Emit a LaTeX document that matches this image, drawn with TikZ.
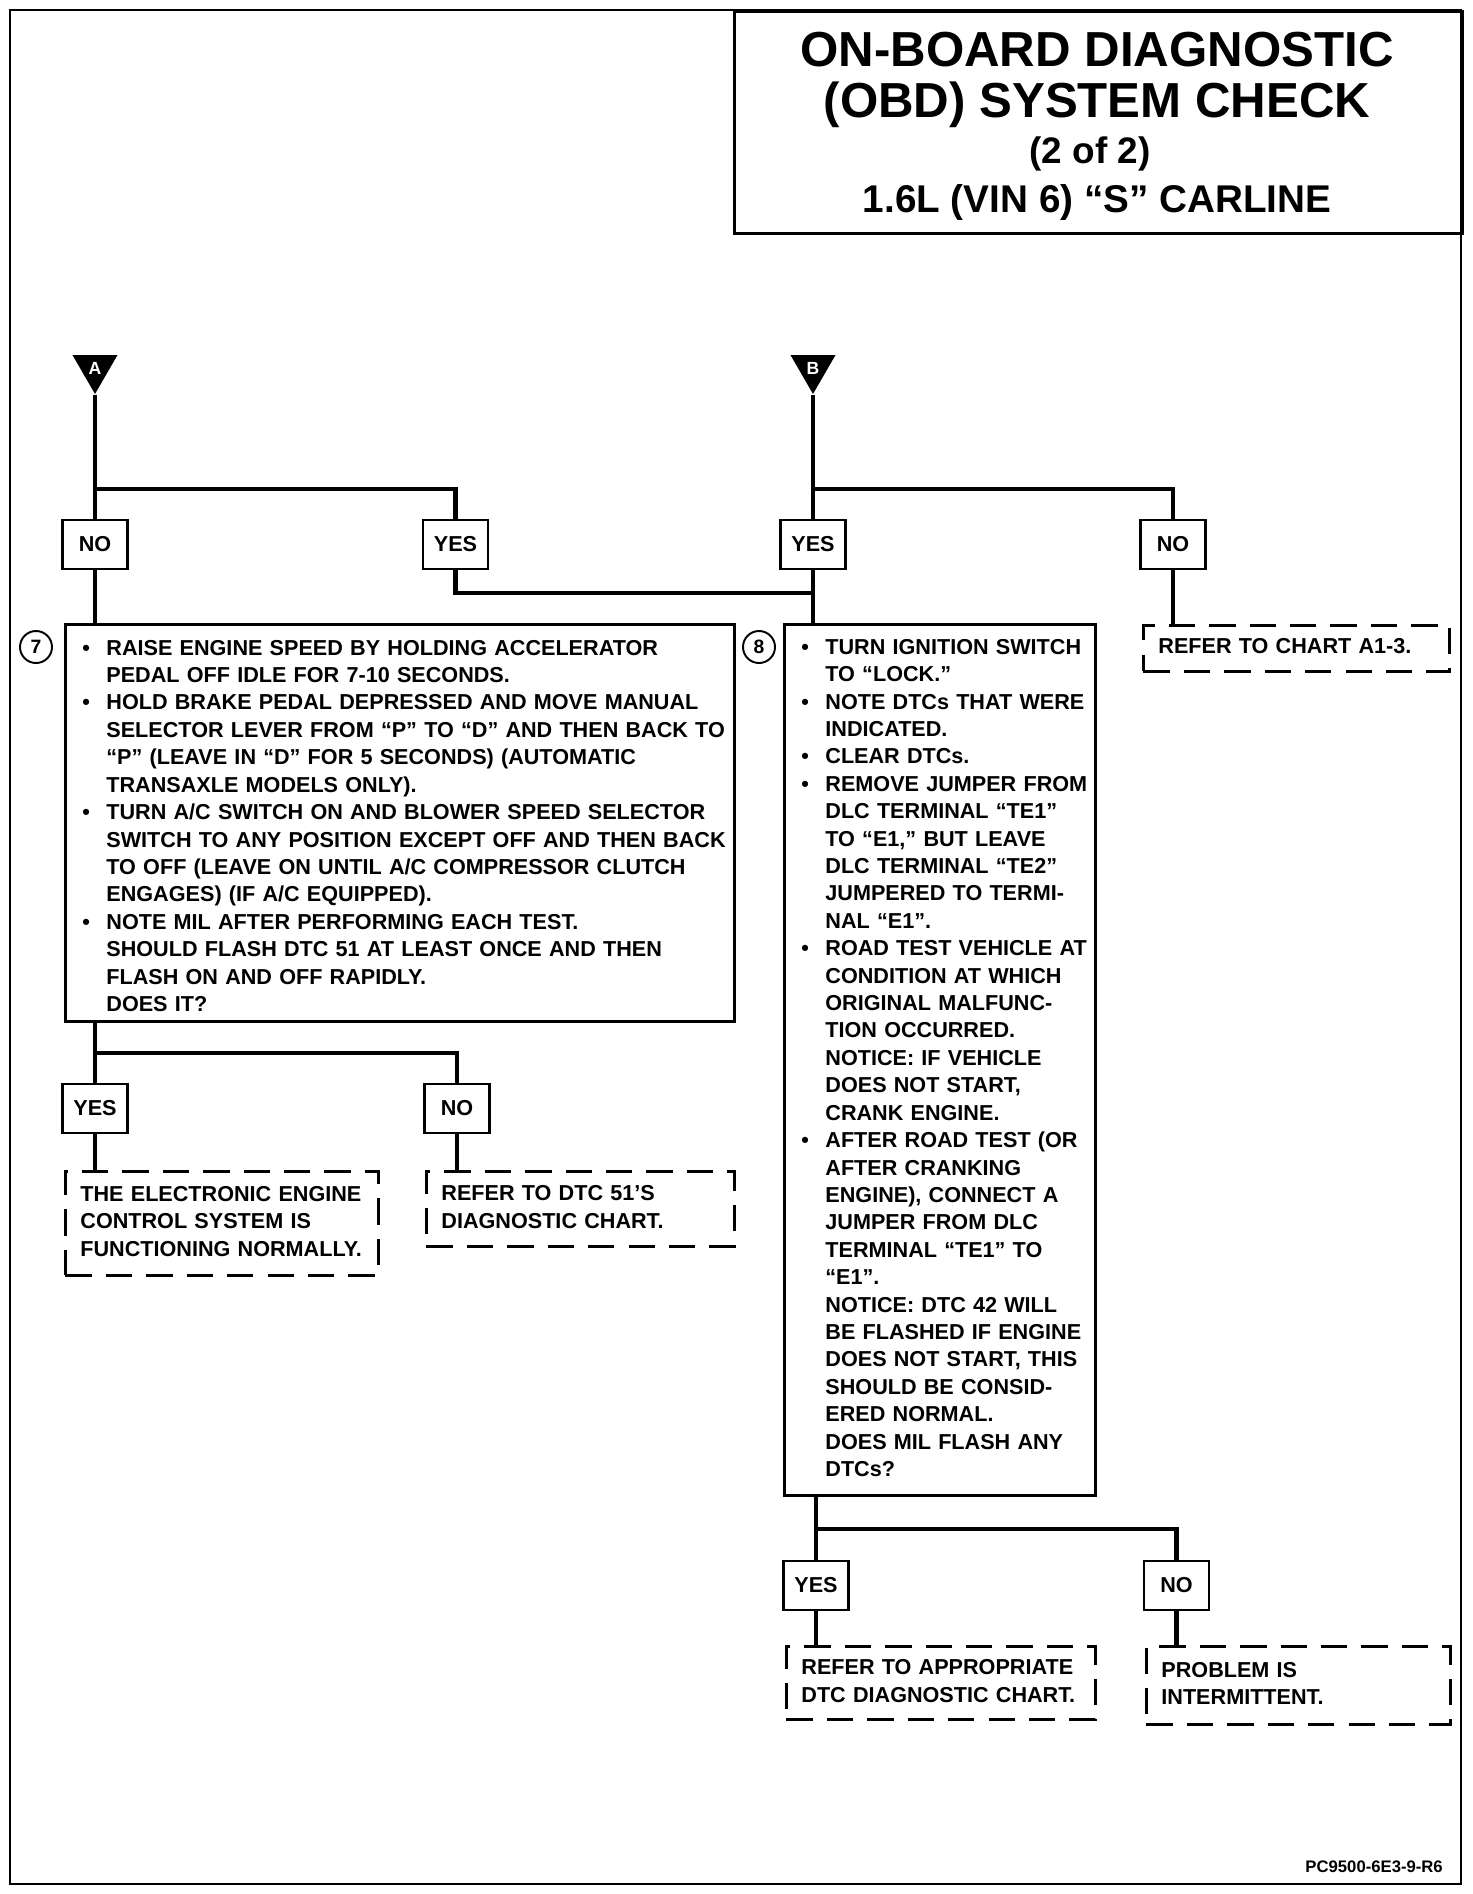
\documentclass[tikz,border=0pt]{standalone}
\usepackage{fontspec}
\setmainfont{Liberation Sans}
\usepackage{tikz}
\usetikzlibrary{positioning,shapes.geometric}

\newcommand{\bodyfont}{\bfseries\fontsize{12.3}{15.6}\selectfont}
\newcommand{\titlefont}{\bfseries\fontsize{28}{30}\selectfont}
\newenvironment{steplist}{\begin{tabular}{@{\hspace{3.4mm}}p{4.8mm}@{}l@{}}}{\end{tabular}}
\newenvironment{resultlist}{\begin{tabular}{@{\hspace{3mm}}l@{}}}{\end{tabular}}

\begin{document}
\begin{tikzpicture}[x=0.2mm, y=-0.2mm,
		conn/.style={line width=2.6pt},
		ansbox/.style={draw, line width=1.6pt, minimum width=13mm, minimum height=9.8mm,
		               inner sep=0pt, font=\bodyfont},
		stepbox/.style={draw, line width=1.6pt, anchor=north west, inner sep=0pt,
		                align=left, font=\bodyfont},
		endbox/.style={stepbox, dash pattern=on 15pt off 8pt},
		stepnum/.style={circle, draw, line width=1.1pt, minimum size=6.4mm, inner sep=0pt,
		                font=\bfseries\fontsize{11}{11}\selectfont},
		offpage/.style={regular polygon, regular polygon sides=3, shape border rotate=180,
		                fill=black, minimum size=10.4mm, inner sep=0pt, text=white,
		                font=\bfseries\fontsize{10}{10}\selectfont}]
	\useasboundingbox (0,0) rectangle (1472,1894);
	\draw[line width=1.1pt] (10,10) rectangle (1461,1884);

	% title block
	\node[draw, line width=1.6pt, anchor=north west, minimum width=145.6mm,
	      minimum height=44.4mm] (titlebox) at (733,10) {};
	\node[anchor=base, font=\titlefont] (title1) at (1097,66) {ON-BOARD DIAGNOSTIC};
	\node[anchor=base, font=\titlefont] (title2) at (1097,117) {(OBD) SYSTEM CHECK};
	\node[anchor=base, font=\bfseries\fontsize{21}{22}\selectfont] (title3) at (1090,163) {(2 of 2)};
	\node[anchor=base, font=\bfseries\fontsize{22}{24}\selectfont] (title4) at (1097,212) {1.6L (VIN 6) “S” CARLINE};

	% entry points and first answers
	\node[offpage] (conA) at (95,368) {A};
	\node[offpage] (conB) at (813,368) {B};
	\node[ansbox] (noA) at (95,544.5) {NO};
	\node[ansbox] (yesA) at (455.5,544.5) {YES};
	\node[ansbox] (yesB) at (813,544.5) {YES};
	\node[ansbox] (noB) at (1173,544.5) {NO};
	\node[endbox, text width=61.2mm, minimum height=9.2mm] (chartA) at (1142,624)
		{\begin{resultlist}REFER TO CHART A1-3.\end{resultlist}};

	% step 7
	\node[stepnum] (num7) at (36,647) {7};
	\node[stepbox, text width=133.8mm, minimum height=79.4mm] (step7) at (64,623) {%
		\begin{steplist}
		\textbullet & RAISE ENGINE SPEED BY HOLDING ACCELERATOR\\
		& PEDAL OFF IDLE FOR 7-10 SECONDS.\\
		\textbullet & HOLD BRAKE PEDAL DEPRESSED AND MOVE MANUAL\\
		& SELECTOR LEVER FROM “P” TO “D” AND THEN BACK TO\\
		& “P” (LEAVE IN “D” FOR 5 SECONDS) (AUTOMATIC\\
		& TRANSAXLE MODELS ONLY).\\
		\textbullet & TURN A/C SWITCH ON AND BLOWER SPEED SELECTOR\\
		& SWITCH TO ANY POSITION EXCEPT OFF AND THEN BACK\\
		& TO OFF (LEAVE ON UNTIL A/C COMPRESSOR CLUTCH\\
		& ENGAGES) (IF A/C EQUIPPED).\\
		\textbullet & NOTE MIL AFTER PERFORMING EACH TEST.\\
		& SHOULD FLASH DTC 51 AT LEAST ONCE AND THEN\\
		& FLASH ON AND OFF RAPIDLY.\\
		& DOES IT?\\[-5.6pt]
		\end{steplist}};
	\node[ansbox] (yes7) at (95,1108.5) {YES};
	\node[ansbox] (no7) at (457,1108.5) {NO};
	\node[endbox, text width=62.6mm, minimum height=20.8mm] (normal) at (64,1170)
		{\begin{resultlist}THE ELECTRONIC ENGINE\\ CONTROL SYSTEM IS\\ FUNCTIONING NORMALLY.\end{resultlist}};
	\node[endbox, text width=61.6mm, minimum height=15mm] (dtc51) at (425,1170)
		{\begin{resultlist}REFER TO DTC 51’S\\ DIAGNOSTIC CHART.\end{resultlist}};

	% step 8
	\node[stepnum] (num8) at (759,647) {8};
	\node[stepbox, text width=62.2mm, minimum height=174.2mm] (step8) at (783,623) {%
		\begin{steplist}
		\textbullet & TURN IGNITION SWITCH\\
		& TO “LOCK.”\\
		\textbullet & NOTE DTCs THAT WERE\\
		& INDICATED.\\
		\textbullet & CLEAR DTCs.\\
		\textbullet & REMOVE JUMPER FROM\\
		& DLC TERMINAL “TE1”\\
		& TO “E1,” BUT LEAVE\\
		& DLC TERMINAL “TE2”\\
		& JUMPERED TO TERMI-\\
		& NAL “E1”.\\
		\textbullet & ROAD TEST VEHICLE AT\\
		& CONDITION AT WHICH\\
		& ORIGINAL MALFUNC-\\
		& TION OCCURRED.\\
		& NOTICE: IF VEHICLE\\
		& DOES NOT START,\\
		& CRANK ENGINE.\\
		\textbullet & AFTER ROAD TEST (OR\\
		& AFTER CRANKING\\
		& ENGINE), CONNECT A\\
		& JUMPER FROM DLC\\
		& TERMINAL “TE1” TO\\
		& “E1”.\\
		& NOTICE: DTC 42 WILL\\
		& BE FLASHED IF ENGINE\\
		& DOES NOT START, THIS\\
		& SHOULD BE CONSID-\\
		& ERED NORMAL.\\
		& DOES MIL FLASH ANY\\
		& DTCs?
		\end{steplist}};
	\node[ansbox] (yes8) at (816,1585.5) {YES};
	\node[ansbox] (no8) at (1176.5,1585.5) {NO};
	\node[endbox, text width=61.8mm, minimum height=14.6mm] (appr) at (785,1645)
		{\begin{resultlist}REFER TO APPROPRIATE\\ DTC DIAGNOSTIC CHART.\end{resultlist}};
	\node[endbox, text width=60.8mm, minimum height=15.6mm] (interm) at (1145,1645)
		{\begin{resultlist}PROBLEM IS\\ INTERMITTENT.\end{resultlist}};

	\node[anchor=base east, font=\bfseries\fontsize{9.5}{9.5}\selectfont] (figcode) at (1449,1872) {PC9500-6E3-9-R6};

	% connectors
	\coordinate (splitA) at (95,489);
	\coordinate (splitB) at (813,489);
	\coordinate (joinB) at (813,593);
	\coordinate (split7) at (95,1053);
	\coordinate (split8) at (816,1529);
	\draw[conn] (conA.corner 1) -- (noA.north);
	\draw[conn] (splitA) -| (yesA.north);
	\draw[conn] (noA.south) -- (noA.south |- step7.north);
	\draw[conn] (yesA.south) |- (joinB);
	\draw[conn] (conB.corner 1) -- (yesB.north);
	\draw[conn] (splitB) -| (noB.north);
	\draw[conn] (yesB.south) -- (yesB.south |- step8.north);
	\draw[conn] (noB.south) -- (noB.south |- chartA.north);
	\draw[conn] (yes7.north |- step7.south) -- (yes7.north);
	\draw[conn] (split7) -| (no7.north);
	\draw[conn] (yes7.south) -- (yes7.south |- normal.north);
	\draw[conn] (no7.south) -- (no7.south |- dtc51.north);
	\draw[conn] (yes8.north |- step8.south) -- (yes8.north);
	\draw[conn] (split8) -| (no8.north);
	\draw[conn] (yes8.south) -- (yes8.south |- appr.north);
	\draw[conn] (no8.south) -- (no8.south |- interm.north);
\end{tikzpicture}
\end{document}
